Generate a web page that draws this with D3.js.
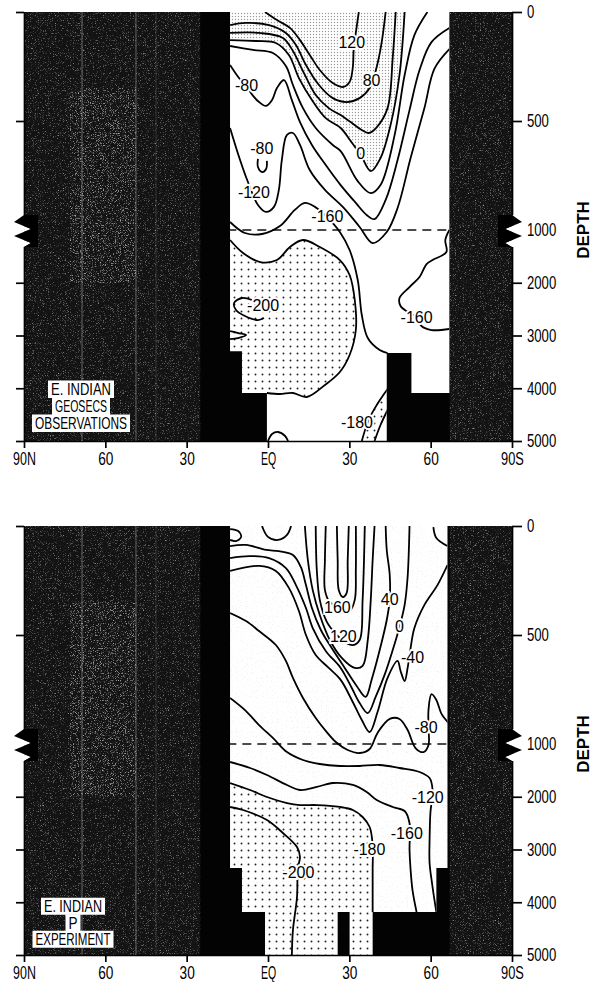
<!DOCTYPE html>
<html>
<head>
<meta charset="utf-8">
<script src="https://cdn.jsdelivr.net/npm/d3@7"></script>
<style>
  body { margin: 0; background: #fff; }
  text { font-family: 'Liberation Sans', Arial, sans-serif; }
</style>
</head>
<body>
<div class="chart"></div>
<script>
// axis ticks
const latTicks = [90, 60, 30, 0, -30, -60, -90]
const latTickLabels = ['90N', '60', '30', 'EQ', '30', '60', '90S']
const depthTicks = [0, 500, 1000, 2000, 3000, 4000, 5000]

// ---------- upper panel: GEOSECS observations  [lat, depth] ----------
const obsOcean = [[14,0],[-66.9,0],[-66.9,4090],[-52.9,4090],[-52.9,3330],[-43.8,3330],[-43.8,5000],
  [0.4,5000],[0.4,4090],[9.6,4090],[9.6,3300],[14,3300]]

const obsZero = [[14,129],[4.4,133],[-2.9,142],[-7.7,197],[-11.4,303],[-16.5,409],[-21.3,487],[-26.8,532],
  [-30.5,592],[-34.2,656],[-37.9,730],[-41.5,670],[-45.2,519],[-48.5,289],[-50.4,0]]
const obs180 = [[14,1190],[9.2,1436],[2.9,1607],[-3.3,1569],[-8.1,1322],[-12.9,1190],[-19.1,1322],[-26.5,1569],
  [-30.1,1853],[-32,2327],[-32.4,2896],[-30.1,3370],[-26.5,3692],[-21,3938],[-14.3,4166],[-9.2,4090],[-4.4,4109],[0.4,4090]]
const obs180a = [[-44.1,4014],[-40.1,4318],[-37.1,4602],[-34.6,5000]]
const obs180b = [[-44.1,4412],[-41.5,4697],[-39.3,5000]]

const obsContours = [
  [[1.1,0],[-3.3,37],[-8.1,73],[-11.8,129],[-15.4,197],[-19.1,266],[-23.9,326],[-27.6,344],[-30.1,321],[-31.3,252],[-31.6,174],[-32.7,69],[-33.5,0]],
  [[14,60],[8.1,50],[-0.4,60],[-6.6,96],[-10.3,151],[-14,243],[-18.8,335],[-23.9,395],[-29,413],[-33.8,395],[-37.5,349],[-40.1,252],[-41.9,142],[-43.4,0]],
  [[14,96],[3.3,96],[-5.5,119],[-9.2,179],[-12.9,271],[-17.6,381],[-22.4,441],[-26.8,473],[-30.5,505],[-34.6,541],[-37.1,555],[-40,530],[-44.1,441],[-46,211],[-47.1,0]],
  obsZero,
  [[14,156],[5.5,174],[-1.8,188],[-6.6,248],[-9.2,335],[-12.9,441],[-17.6,532],[-23.9,610],[-26.8,638],[-33.1,776],[-37.9,831],[-41.5,794],[-46.7,565],[-50.4,289],[-54,106],[-58.8,0]],
  [[14,243],[10.7,303],[8.1,339],[5.5,385],[3.3,413],[0.7,431],[-1.5,404],[-3.3,349],[-5.9,312],[-8.8,404],[-11.8,505],[-16.2,610],[-21.3,702],[-26.8,794],[-32.4,876],[-36.4,931],[-39.3,950],[-43.4,862],[-47.8,679],[-52.2,450],[-55.9,266],[-60.3,138],[-66.9,73]],
  [[3.7,674],[3.7,711],[2.2,734],[0.7,720],[0.4,683]],
  [[14,532],[10.3,679],[7.4,780],[3.7,885],[0.7,917],[-2.2,894],[-4,816],[-5.1,679],[-7,564],[-9.2,555],[-11.8,610],[-15.4,725],[-21,816],[-27.6,894],[-33.8,986],[-38.6,1247],[-43.8,1038],[-47.8,899],[-52.6,670],[-57.7,440],[-61.4,260],[-66.9,170]],
  [[14,963],[8.5,1057],[2.2,1076],[-4.4,982],[-9.9,908],[-13.6,876],[-17.3,894],[-21.7,940],[-26.5,1038],[-30.1,1379],[-33.1,1948],[-34.6,2612],[-36.8,3048],[-41.2,3275],[-44.1,3332]],
  [[-66.9,1000],[-65.4,1190],[-65.8,1417],[-60.7,1569],[-58.5,1645],[-55.9,1891],[-52.2,2081],[-48.5,2289],[-48.9,2441],[-51.5,2555],[-54.8,2650],[-56.6,2820],[-60.3,2896],[-66.9,2877]],
  obs180,
  [[5.9,2327],[9.6,2289],[12.5,2384],[11.8,2517],[8.5,2631],[3.7,2707],[1.5,2669]],
  [[14,2915],[11,2953],[8.1,2991],[11,3048],[14,3067]],
  [[0,5000],[-1.5,4867],[-3.7,4829],[-6.3,4905],[-7.4,5000]],
  obs180a,
  obs180b
]

const obsLabels = [
  ['120', -30.9, 142], ['80', -38.2, 312], ['-80', 7.9, 339], ['-80', 2.3, 628], ['0', -34.2, 650],
  ['-120', 5.2, 830], ['-160', -21.9, 940], ['-200', 1.8, 2440], ['-160', -54.8, 2650], ['-180', -32.8, 4640]
]
const obsTitle = ['E. INDIAN', 'GEOSECS', 'OBSERVATIONS']

// ---------- lower panel: P experiment  [lat, depth] ----------
const expOcean = [[14,0],[-66.2,0],[-66.2,3351],[-62.1,3351],[-62.1,4185],[-38.6,4185],[-38.6,5000],[-30.1,5000],
  [-30.1,4185],[-25.7,4185],[-25.7,5000],[1.1,5000],[1.1,4185],[9.6,4185],[9.6,3351],[14,3351]]

const exp180 = [[14,1739],[6.6,1872],[0.4,2005],[-7,2119],[-11.8,2157],[-18,2157],[-26.5,2194],[-31.3,2251],
  [-34.9,2384],[-37.5,2574],[-38.6,2915],[-38.6,3389],[-38.6,4185]]

const expContours = [
  [[14,14],[11,23],[9.9,50],[11.8,69],[14,64]],
  [[2.2,0],[0,50],[-3.7,64],[-7,41],[-8.5,0]],
  [[-25.4,0],[-25.7,156],[-26.1,294],[-27.6,326],[-29,308],[-29.4,156],[-29.8,0]],
  [[-21.3,0],[-21,156],[-21,294],[-22.8,349],[-26.1,372],[-30.1,390],[-32,339],[-32.4,202],[-32.4,0]],
  [[-17.6,0],[-18,202],[-19.1,339],[-21.7,440],[-25,495],[-28.3,532],[-31.3,546],[-33.8,523],[-34.9,339],[-35.7,0]],
  [[-13.6,0],[-14.7,156],[-16.5,294],[-19.1,408],[-22.8,523],[-27.2,605],[-32,651],[-34.9,642],[-36.8,523],[-37.9,339],[-38.6,156],[-39.3,0]],
  [[14,92],[8.1,87],[0.7,110],[-4,115],[-9.2,133],[-12.1,188],[-14,271],[-16.2,376],[-19.5,477],[-23.5,560],[-28.3,651],[-32.7,734],[-36,784],[-38.2,706],[-41.2,569],[-43.8,431],[-44.9,339],[-44.9,225],[-43.8,110],[-43.4,0]],
  [[14,147],[7,138],[-0.4,147],[-6.6,193],[-10.3,271],[-14,376],[-16.5,468],[-21.3,573],[-26.8,651],[-30.9,743],[-33.8,812],[-36.8,858],[-39.7,784],[-43,683],[-46,569],[-48.5,463],[-50.4,362],[-51.5,234],[-52.2,0]],
  [[14,206],[3.3,183],[-2.9,206],[-7.7,284],[-11.4,390],[-14,500],[-17.6,592],[-22.4,651],[-26.8,706],[-30.9,798],[-34.6,890],[-37.5,945],[-40.4,853],[-44.1,697],[-47.8,619],[-48.9,665],[-50.4,711],[-51.5,651],[-52.6,560],[-54,468],[-57.7,362],[-62.5,271],[-66.2,179]],
  [[-61,5],[-62.1,55],[-66.2,92]],
  [[14,399],[8.1,436],[3.3,482],[-2.9,546],[-6.6,619],[-9.2,697],[-12.9,789],[-17.6,881],[-21.3,940],[-25,991],[-29.4,1114],[-33.8,1171],[-37.5,1095],[-40.4,949],[-44.9,885],[-48.5,885],[-51.5,936],[-54.4,1076],[-57.4,1152],[-59.2,1019],[-59.2,926],[-59.2,844],[-60.3,771],[-62.1,798],[-64,862],[-66.9,908]],
  [[14,789],[8.1,849],[3.3,913],[-1.8,972],[-7,1152],[-12.9,1303],[-19.1,1379],[-26.5,1417],[-33.8,1417],[-41.2,1398],[-48.5,1455],[-55.9,1531],[-59.6,1645],[-60.7,1872],[-59.9,2308],[-59.6,2820],[-59.6,3256],[-60.7,3711],[-62.1,4185]],
  [[14,1341],[6.6,1455],[0.4,1588],[-7,1777],[-11.8,1872],[-18,1815],[-23.9,1739],[-31.3,1777],[-36.4,1910],[-40.1,2062],[-46,2194],[-50.4,2270],[-52.2,2498],[-52.2,3010],[-52.6,3389],[-53.3,3768],[-54.8,4185]],
  exp180,
  [[14,2194],[9.2,2251],[0.4,2441],[-5.5,2687],[-10.7,2953],[-11.8,3142],[-11,3351],[-10.7,3901],[-9.2,4527],[-8.8,5000]]
]

const expLabels = [
  ['160', -25.6, 372], ['120', -27.8, 509], ['40', -44.9, 339], ['0', -48.5, 463], ['-40', -53.3, 601],
  ['-80', -58.3, 926], ['-120', -58.9, 2005], ['-160', -51.2, 2700], ['-180', -37.4, 2991], ['-200', -11.2, 3427]
]
const expTitle = ['E. INDIAN', 'P', 'EXPERIMENT']

// ---------- drawing ----------
const svg = d3.select('.chart').append('svg')
  .attr('width', 603)
  .attr('height', 982)

const defs = svg.append('defs')

// grainy ground of the land areas
function grainFilter(id, grey, a, b, freq) {
  const f = defs.append('filter').attr('id', id)
    .attr('x', 0).attr('y', 0).attr('width', 1).attr('height', 1)
  f.append('feTurbulence').attr('type', 'fractalNoise')
    .attr('baseFrequency', freq).attr('numOctaves', 1).attr('seed', 5)
  f.append('feColorMatrix').attr('type', 'matrix')
    .attr('values', `0 0 0 0 ${grey}  0 0 0 0 ${grey}  0 0 0 0 ${grey}  0 0 0 ${a} ${b}`)
}
grainFilter('grain', 0.3, 4, -2.3, 1.4)
grainFilter('grainLight', 0.5, 4, -2.05, 1.4)
grainFilter('speck', 0.55, 3, -1.75, 1.2)

const fine = defs.append('pattern').attr('id', 'fine')
  .attr('patternUnits', 'userSpaceOnUse').attr('width', 3).attr('height', 3)
fine.append('circle').attr('cx', 1.5).attr('cy', 1.5).attr('r', 0.7).attr('fill', '#9a9a9a')

const dots = defs.append('pattern').attr('id', 'dots')
  .attr('patternUnits', 'userSpaceOnUse').attr('width', 7).attr('height', 7)
dots.append('circle').attr('cx', 3.5).attr('cy', 3.5).attr('r', 0.95).attr('fill', '#222')

const x = d3.scaleLinear().domain([90, -90]).range([24, 512])

const saw = [[0, -15], [10, -8], [-7, -1], [10, 6], [-7, 13], [0, 17]]

function drawPanel(p) {
  const h = 429
  const bottom = p.top + h
  const y = d3.scaleLinear().domain([0, 1000, 5000]).range([p.top, p.top + 218, bottom])
  const line = d3.line().x(d => x(d[0])).y(d => y(d[1])).curve(d3.curveCatmullRom.alpha(0.5))
  const pt = d => x(d[0]) + ',' + y(d[1])
  const poly = pts => 'M' + pts.map(pt).join('L') + 'Z'
  const shade = (edge, corners) => line(edge) + corners.map(d => 'L' + pt(d)).join('') + 'Z'

  defs.append('clipPath').attr('id', p.id + 'Sea')
    .append('path').attr('d', poly(p.ocean))
  defs.append('clipPath').attr('id', p.id + 'Box')
    .append('rect').attr('x', 24).attr('y', p.top).attr('width', 488).attr('height', h)

  const g = svg.append('g')

  // land
  const land = g.append('g').attr('clip-path', `url(#${p.id}Box)`)
  land.append('rect')
    .attr('x', 24).attr('y', p.top).attr('width', 488).attr('height', h)
    .attr('fill', '#131313')
  land.append('rect')
    .attr('x', 24).attr('y', p.top).attr('width', 488).attr('height', h)
    .attr('fill', '#000').attr('filter', 'url(#grain)')
  land.append('rect')
    .attr('x', x(73)).attr('y', y(350))
    .attr('width', x(49) - x(73)).attr('height', y(2000) - y(350))
    .attr('fill', '#000').attr('filter', 'url(#grainLight)').attr('opacity', 0.6)
  land.selectAll('line.mer')
    .data([68.6, 48.7, 41.3])
    .enter().append('line')
      .attr('x1', d => x(d)).attr('x2', d => x(d))
      .attr('y1', p.top).attr('y2', bottom)
      .attr('stroke', '#9a9a9a').attr('stroke-width', 1)
      .attr('opacity', (d, i) => i === 2 ? 0.25 : 0.6)
  land.append('rect')
    .attr('x', x(25)).attr('y', p.top).attr('width', x(-67) - x(25)).attr('height', h)
    .attr('fill', '#030303')

  // ocean section
  g.append('path').attr('d', poly(p.ocean)).attr('fill', '#fff')
  const sea = g.append('g').attr('clip-path', `url(#${p.id}Sea)`)
  if (p.speckle) {
    sea.append('rect')
      .attr('x', 24).attr('y', p.top).attr('width', 488).attr('height', h)
      .attr('fill', '#000').attr('filter', 'url(#speck)').attr('opacity', 0.45)
  }
  p.shades.forEach(s => {
    sea.append('path').attr('d', shade(s.edge, s.corners)).attr('fill', `url(#${s.fill})`)
  })
  sea.append('line')
    .attr('x1', x(15)).attr('x2', x(-67))
    .attr('y1', y(1000)).attr('y2', y(1000))
    .attr('stroke', '#111').attr('stroke-width', 1.3).attr('stroke-dasharray', '9,6')
  sea.selectAll('path.contour')
    .data(p.contours)
    .enter().append('path')
      .attr('class', 'contour')
      .attr('d', line)
      .attr('fill', 'none')
      .attr('stroke', '#000')
      .attr('stroke-width', 1.8)
      .attr('stroke-linejoin', 'round')

  g.selectAll('text.clabel')
    .data(p.labels)
    .enter().append('text')
      .attr('class', 'clabel')
      .attr('x', d => x(d[1]))
      .attr('y', d => y(d[2]))
      .attr('text-anchor', 'middle')
      .attr('dominant-baseline', 'central')
      .attr('font-size', 16)
      .attr('stroke', '#fff').attr('stroke-width', 4).attr('paint-order', 'stroke')
      .attr('fill', '#000')
      .text(d => d[0])

  // axes
  const fit = (sel, per) => sel.selectAll('text')
    .attr('font-size', 18)
    .attr('fill', '#000')
    .attr('textLength', function () { return per * this.textContent.length })
    .attr('lengthAdjust', 'spacingAndGlyphs')

  const xAxis = g.append('g')
    .attr('transform', `translate(0,${bottom})`)
    .call(d3.axisBottom(x).tickValues(latTicks).tickFormat((d, i) => latTickLabels[i])
      .tickSize(7).tickSizeOuter(0).tickPadding(4))
  xAxis.attr('font-family', null).attr('font-size', null)
  xAxis.selectAll('path, line').attr('stroke-width', 1.7)
  fit(xAxis, 7.6)

  const yAxis = g.append('g')
    .attr('transform', 'translate(512,0)')
    .call(d3.axisRight(y).tickValues(depthTicks).tickFormat(d3.format('d'))
      .tickSize(10).tickSizeOuter(0).tickPadding(5))
  yAxis.attr('font-family', null).attr('font-size', null)
  yAxis.selectAll('path, line').attr('stroke-width', 1.7)
  fit(yAxis, 7.3)

  const lAxis = g.append('g')
    .attr('transform', 'translate(24,0)')
    .call(d3.axisLeft(y).tickValues(depthTicks.filter(d => d !== 1000))
      .tickSize(8).tickSizeOuter(0).tickFormat(''))
  lAxis.selectAll('path, line').attr('stroke-width', 1.7)

  // axis breaks at 1000 m
  const zy = y(1000)
  const zig = (xs, dir) => {
    const pts = saw.map(d => [xs + dir * d[0], zy + d[1]])
    const t = zy + saw[0][1], b = zy + saw[saw.length - 1][1]
    g.append('path').attr('d', 'M' + pts.join('L') + `L${xs + dir * 11},${b}L${xs + dir * 11},${t}Z`).attr('fill', '#fff')
    g.append('path').attr('d', 'M' + pts.join('L') + `L${xs - dir * 14},${b}L${xs - dir * 14},${t}Z`).attr('fill', '#000')
  }
  zig(512, 1)
  zig(24, -1)

  g.append('text')
    .attr('transform', `translate(583,${zy}) rotate(-90)`)
    .attr('text-anchor', 'middle')
    .attr('dominant-baseline', 'central')
    .attr('font-size', 17)
    .attr('font-weight', 'bold')
    .text('DEPTH')

  // panel title
  const tg = g.append('g')
  p.title.forEach((t, i) => {
    const cy = p.titleY + i * p.titleStep
    const w = p.titleW[i]
    tg.append('rect')
      .attr('x', p.titleX - w / 2 - 3).attr('y', cy - p.titleStep / 2)
      .attr('width', w + 6).attr('height', p.titleStep + 0.5)
      .attr('fill', '#fff')
    tg.append('text')
      .attr('x', p.titleX)
      .attr('y', cy + 6)
      .attr('text-anchor', 'middle')
      .attr('font-size', 16.5)
      .attr('textLength', w)
      .attr('lengthAdjust', 'spacingAndGlyphs')
      .text(t)
  })
}

drawPanel({
  id: 'obs', top: 12, ocean: obsOcean, contours: obsContours, labels: obsLabels,
  shades: [
    { edge: obsZero, corners: [[14, 0]], fill: 'fine' },
    { edge: obs180, corners: [[9.6, 4090], [9.6, 3300], [14, 3300]], fill: 'dots' },
    { edge: obs180a, corners: obs180b.slice().reverse(), fill: 'dots' }
  ],
  title: obsTitle, titleX: 81, titleY: 389, titleStep: 17, titleW: [60, 52, 92]
})

drawPanel({
  id: 'exp', top: 526, ocean: expOcean, contours: expContours, labels: expLabels, speckle: true,
  shades: [
    { edge: exp180, corners: [[-38.6, 5000], [1.1, 5000], [1.1, 4185], [9.6, 4185], [9.6, 3351], [14, 3351]], fill: 'dots' }
  ],
  title: expTitle, titleX: 73, titleY: 906, titleStep: 16.5, titleW: [58, 9, 75]
})
</script>
</body>
</html>
